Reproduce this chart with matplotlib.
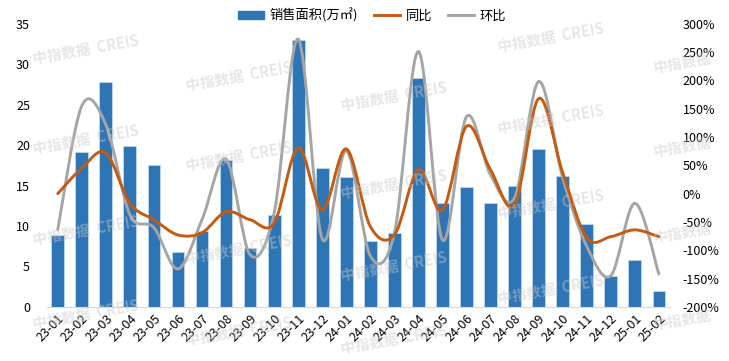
import numpy as np
import matplotlib.pyplot as plt
from matplotlib.path import Path
from matplotlib.patches import PathPatch, Patch
from matplotlib.lines import Line2D

plt.rcParams['font.family'] = ['Noto Sans CJK SC', 'DejaVu Sans']

# --- datos ---
meses = ['23-01', '23-02', '23-03', '23-04', '23-05', '23-06', '23-07', '23-08',
         '23-09', '23-10', '23-11', '23-12', '24-01', '24-02', '24-03', '24-04',
         '24-05', '24-06', '24-07', '24-08', '24-09', '24-10', '24-11', '24-12',
         '25-01', '25-02']
area = [8.9, 19.2, 27.8, 19.9, 17.6, 6.8, 9.4, 18.1, 7.3, 11.3, 33.0, 17.2, 16.1,
        8.2, 9.1, 28.3, 12.9, 14.8, 12.8, 15.0, 19.5, 16.2, 10.2, 3.8, 5.8, 2.0]
tongbi = [0, 45, 72, -17, -46, -73, -69, -32, -46, -52, 81, -29, 79,
          -58, -73, 42, -29, 119, 42, -20, 168, 37, -78, -76, -64, -76]
huanbi = [-64, 155, 122, -37, -60, -133, -46, 61, -108, -34, 273, -80, 76,
          -110, -70, 251, -82, 136, 33, -7, 198, 28, -93, -145, -17, -142]

azul = '#2E75B6'
naranja = '#C55A11'
gris = '#A5A5A5'


def curva_suave(ax, x, y, color):
    # suavizado tipo Excel: Bezier cubica entre puntos
    x = np.asarray(x, float)
    y = np.asarray(y, float)
    n = len(x)
    verts = [(x[0], y[0])]
    codes = [Path.MOVETO]
    for i in range(n - 1):
        p0 = (x[i - 1], y[i - 1]) if i > 0 else (x[i], y[i])
        p1 = (x[i], y[i])
        p2 = (x[i + 1], y[i + 1])
        p3 = (x[i + 2], y[i + 2]) if i + 2 < n else p2
        c1 = (p1[0] + (p2[0] - p0[0]) / 6, p1[1] + (p2[1] - p0[1]) / 6)
        c2 = (p2[0] - (p3[0] - p1[0]) / 6, p2[1] - (p3[1] - p1[1]) / 6)
        verts += [c1, c2, p2]
        codes += [Path.CURVE4] * 3
    ax.add_patch(PathPatch(Path(verts, codes), fill=False, edgecolor=color,
                           lw=2.1, capstyle='round', joinstyle='round', zorder=3))


fig = plt.figure(figsize=(7.29, 3.61), dpi=100)
ax = fig.add_axes([0.064, 0.150, 0.855, 0.784])
ax2 = ax.twinx()

x = np.arange(len(meses))
ax.bar(x, area, width=0.53, color=azul, edgecolor='#BDD7EE', linewidth=0.6, zorder=2)

curva_suave(ax2, x, huanbi, gris)
curva_suave(ax2, x, tongbi, naranja)

ax.set_xlim(-0.46, 25.46)
ax.set_ylim(0, 35)
ax.set_yticks(range(0, 36, 5))
ax2.set_ylim(-200, 300)
ax2.set_yticks(range(-200, 301, 50))
ax2.set_yticklabels([f'{v}%' for v in range(-200, 301, 50)])

ax.set_xticks(x)
ax.set_xticklabels(meses, rotation=45, ha='right', rotation_mode='anchor')

for a in (ax, ax2):
    for s in a.spines.values():
        s.set_visible(False)
    a.tick_params(length=0, labelsize=9, colors='#000000')
ax.spines['bottom'].set_visible(True)
ax.spines['bottom'].set_color('#D9D9D9')
ax.tick_params(axis='y', pad=12)
ax.tick_params(axis='x', pad=4)
ax2.tick_params(axis='y', pad=9)

# marca de agua
columnas = {32: [50, 140, 231, 315], 185: [77, 157, 250, 332],
            340: [97, 185, 267, 340], 497: [38, 120, 205, 290]}
for px, filas in columnas.items():
    for py in filas:
        fig.text(px / 729, 1 - py / 361, '中指数据  CREIS', fontsize=10.5,
                 fontweight='bold', color='#C8C8C8', alpha=0.45, rotation=10,
                 ha='left', va='center', zorder=10)
for py in [63, 147, 233, 320]:
    fig.text(652 / 729, 1 - py / 361, '中指数据', fontsize=10.5,
             fontweight='bold', color='#C8C8C8', alpha=0.45, rotation=10,
             ha='left', va='center', zorder=10)

handles = [Patch(facecolor=azul, edgecolor=azul),
           Line2D([0], [0], color=naranja, lw=2.1),
           Line2D([0], [0], color=gris, lw=2.1)]
fig.legend(handles, ['销售面积(万㎡)', '同比', '环比'], loc='upper center',
           bbox_to_anchor=(0.51, 1.01), ncol=3, frameon=False, fontsize=9.5,
           handlelength=2.0, handleheight=0.6, columnspacing=1.2, handletextpad=0.4)

plt.savefig('out.png', dpi=100)
